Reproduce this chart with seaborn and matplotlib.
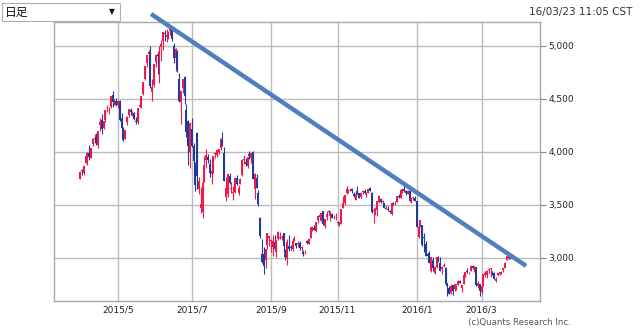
import numpy as np
import pandas as pd
import matplotlib
matplotlib.use("Agg")
import matplotlib.pyplot as plt
from matplotlib.patches import Rectangle
import seaborn as sns

# Shanghai market trading days, 2015-04-01 .. 2016-03-23
holidays = ["2015-04-06", "2015-05-01", "2015-06-22", "2015-09-03", "2015-09-04",
            "2015-10-01", "2015-10-02", "2015-10-05", "2015-10-06", "2015-10-07",
            "2016-01-01", "2016-02-08", "2016-02-09", "2016-02-10", "2016-02-11",
            "2016-02-12"]
dates = pd.bdate_range("2015-04-01", "2016-03-23")
dates = dates[~dates.isin(pd.to_datetime(holidays))]

opens = [
    # 2015/4
    3748, 3829, 3803, 3899, 3960, 3993, 3941, 4072, 4125, 4141, 4061, 4254, 4303, 4224, 4305, 4412, 4394, 4425, 4536, 4458, 4483,
    # 2015/5
    4441, 4479, 4320, 4213, 4125, 4282, 4344, 4400, 4373, 4367, 4296, 4285, 4426, 4440, 4544, 4686, 4842, 4925, 4943, 4563,
    # 2015/6
    4633, 4844, 4924, 4912, 4986, 5044, 5114, 5080, 5102, 5143, 5174, 5004, 4890, 4943, 4689, 4471, 4604, 4711, 4399, 4289, 3997,
    # 2015/7
    4214, 4058, 3793, 4176, 3654, 3467, 3432, 3719, 3927, 3950, 3882, 3790, 3833, 3980, 3973, 4003, 4037, 4110, 3986, 3573, 3606, 3776, 3650,
    # 2015/8
    3614, 3621, 3756, 3609, 3695, 3786, 3928, 3902, 3869, 3977, 3947, 3999, 3646, 3754, 3609, 3373, 3042, 3037, 2978, 3125, 3186,
    # 2015/9
    3157, 3101, 3149, 3054, 3183, 3190, 3189, 3237, 3041, 2998, 3115, 3108, 3082, 3163, 3137, 3131, 3140, 3098, 3053, 3053,
    # 2015/10
    3156, 3134, 3193, 3262, 3284, 3254, 3362, 3404, 3368, 3441, 3297, 3389, 3442, 3399, 3411, 3384, 3383,
    # 2015/11
    3337, 3316, 3325, 3470, 3514, 3611, 3624, 3646, 3654, 3605, 3550, 3630, 3611, 3575, 3619, 3630, 3600, 3614, 3659, 3616, 3443,
    # 2015/12
    3442, 3450, 3525, 3558, 3529, 3518, 3462, 3459, 3441, 3412, 3511, 3514, 3527, 3580, 3570, 3645, 3655, 3631, 3608, 3636, 3528, 3566, 3570,
    # 2016/1
    3536, 3196, 3292, 3309, 3194, 3131, 3036, 3051, 2873, 2985, 2854, 2911, 2992, 2952, 2897, 2923, 2904, 2765, 2712, 2669,
    # 2016/2
    2741, 2703, 2711, 2743, 2780, 2713, 2756, 2831, 2873, 2856, 2878, 2924, 2894, 2917, 2737, 2751,
    # 2016/3
    2682, 2732, 2841, 2836, 2885, 2894, 2867, 2857, 2786, 2835, 2848, 2860, 2884, 2905, 2981, 3005, 3004,
]
highs = [
    3817, 3835, 3866, 3961, 4000, 4069, 4034, 4128, 4168, 4175, 4194, 4317, 4356, 4293, 4398, 4444, 4424, 4529, 4572, 4499, 4507,
    4489, 4488, 4368, 4238, 4207, 4342, 4402, 4413, 4384, 4376, 4328, 4417, 4512, 4530, 4658, 4814, 4911, 4958, 5001, 4689,
    4829, 4911, 4951, 4997, 5052, 5131, 5147, 5164, 5137, 5178, 5176, 5029, 4985, 4966, 4744, 4577, 4691, 4720, 4456, 4297, 4287,
    4318, 4080, 3908, 4184, 3762, 3674, 3748, 3959, 4030, 3977, 3938, 3868, 3963, 4000, 4019, 4031, 4133, 4185, 4051, 3765, 3793, 3803, 3712,
    3675, 3757, 3782, 3686, 3751, 3934, 3970, 3944, 3955, 4006, 3994, 4006, 3797, 3788, 3640, 3388, 3175, 3100, 3084, 3233, 3211,
    3180, 3213, 3218, 3174, 3256, 3243, 3214, 3239, 3085, 3182, 3213, 3121, 3160, 3208, 3145, 3161, 3157, 3112, 3074, 3073,
    3172, 3185, 3293, 3298, 3308, 3338, 3394, 3422, 3426, 3447, 3369, 3441, 3457, 3440, 3420, 3405, 3420,
    3348, 3336, 3460, 3585, 3596, 3678, 3648, 3659, 3664, 3623, 3609, 3679, 3616, 3619, 3640, 3654, 3619, 3648, 3669, 3621, 3470,
    3483, 3538, 3591, 3568, 3547, 3518, 3497, 3493, 3451, 3521, 3529, 3534, 3588, 3600, 3645, 3652, 3684, 3640, 3641, 3637, 3564, 3573, 3580,
    3538, 3328, 3362, 3309, 3236, 3163, 3043, 3067, 3011, 3006, 2925, 3012, 3016, 3010, 2923, 2951, 2917, 2768, 2734, 2750,
    2741, 2750, 2757, 2788, 2794, 2749, 2839, 2868, 2901, 2870, 2933, 2929, 2928, 2917, 2780, 2757,
    2735, 2849, 2874, 2886, 2906, 2901, 2874, 2865, 2818, 2860, 2867, 2880, 2909, 2961, 3026, 3018, 3012,
]
lows = [
    3742, 3783, 3787, 3899, 3874, 3922, 3940, 4054, 4084, 4069, 4041, 4196, 4174, 4214, 4284, 4373, 4354, 4417, 4425, 4439, 4433,
    4412, 4288, 4195, 4099, 4120, 4252, 4329, 4349, 4335, 4306, 4260, 4268, 4426, 4416, 4536, 4680, 4806, 4863, 4606, 4480,
    4616, 4797, 4738, 4647, 4856, 4965, 5049, 5042, 5064, 5099, 5048, 4841, 4767, 4757, 4476, 4264, 4552, 4456, 4140, 3875, 3848,
    4043, 3795, 3629, 3653, 3601, 3421, 3373, 3719, 3844, 3894, 3762, 3694, 3805, 3943, 3954, 3985, 4017, 4052, 3724, 3537, 3573, 3696, 3614,
    3549, 3612, 3687, 3596, 3695, 3774, 3891, 3868, 3849, 3929, 3894, 3743, 3558, 3663, 3491, 3191, 2953, 2850, 2906, 3085, 3109,
    3053, 3019, 3066, 3011, 3169, 3178, 3168, 3049, 2983, 2938, 3061, 3073, 3067, 3163, 3093, 3108, 3073, 3069, 3022, 3039,
    3133, 3131, 3188, 3255, 3260, 3248, 3326, 3356, 3353, 3310, 3285, 3362, 3406, 3347, 3373, 3363, 3354,
    3308, 3301, 3325, 3470, 3502, 3606, 3615, 3627, 3616, 3573, 3543, 3603, 3566, 3570, 3603, 3599, 3576, 3612, 3629, 3423, 3327,
    3410, 3392, 3518, 3520, 3511, 3467, 3459, 3447, 3425, 3407, 3498, 3501, 3527, 3561, 3568, 3614, 3625, 3597, 3601, 3532, 3520, 3543, 3538,
    3295, 3189, 3288, 3115, 3059, 3016, 2975, 2949, 2867, 2878, 2844, 2907, 2961, 2880, 2851, 2911, 2749, 2639, 2656, 2659,
    2654, 2691, 2698, 2741, 2760, 2683, 2756, 2817, 2857, 2845, 2874, 2892, 2868, 2740, 2712, 2638,
    2658, 2732, 2817, 2813, 2860, 2825, 2843, 2805, 2773, 2832, 2837, 2849, 2868, 2901, 2980, 2991, 2987,
]
closes = [
    3810, 3825, 3863, 3961, 3994, 3957, 4034, 4121, 4135, 4084, 4194, 4287, 4217, 4293, 4398, 4414, 4394, 4527, 4476, 4476, 4442,
    4480, 4298, 4229, 4112, 4205, 4333, 4401, 4375, 4378, 4308, 4283, 4417, 4446, 4529, 4657, 4813, 4910, 4941, 4620, 4611,
    4828, 4910, 4909, 4947, 5023, 5131, 5113, 5106, 5121, 5166, 5062, 4887, 4967, 4786, 4478, 4576, 4690, 4527, 4192, 4053, 4277,
    4053, 3912, 3687, 3776, 3727, 3507, 3710, 3877, 3970, 3924, 3805, 3823, 3958, 3992, 4017, 4026, 4124, 4070, 3725, 3663, 3789, 3705, 3664,
    3623, 3757, 3695, 3661, 3744, 3928, 3928, 3887, 3955, 3965, 3993, 3748, 3794, 3664, 3507, 3210, 2965, 2927, 3084, 3232, 3206,
    3166, 3160, 3080, 3170, 3243, 3197, 3200, 3114, 3005, 3152, 3086, 3097, 3157, 3186, 3116, 3143, 3093, 3101, 3039, 3053,
    3144, 3183, 3288, 3294, 3263, 3338, 3392, 3386, 3426, 3320, 3369, 3413, 3430, 3434, 3375, 3388, 3383,
    3326, 3316, 3460, 3523, 3590, 3647, 3641, 3650, 3632, 3580, 3606, 3605, 3568, 3617, 3630, 3610, 3616, 3647, 3635, 3436, 3445,
    3456, 3536, 3584, 3525, 3536, 3470, 3472, 3455, 3435, 3520, 3510, 3516, 3580, 3578, 3643, 3651, 3636, 3612, 3627, 3534, 3563, 3572, 3539,
    3296, 3288, 3361, 3125, 3186, 3016, 3022, 2949, 3007, 2901, 2913, 3008, 2976, 2880, 2916, 2938, 2750, 2735, 2656, 2738,
    2689, 2750, 2739, 2782, 2763, 2746, 2837, 2867, 2863, 2860, 2927, 2903, 2928, 2741, 2767, 2688,
    2733, 2849, 2859, 2874, 2897, 2901, 2863, 2805, 2804, 2859, 2864, 2870, 2904, 2955, 3018, 2999, 3010,
]

# resistance line drawn across the chart (trading-day index, price)
trend_x = [39.4, 247.8]
trend_y = [5302, 2925]

tick_months = ["2015-05", "2015-07", "2015-09", "2015-11", "2016-01", "2016-03"]
tick_labels = ["2015/5", "2015/7", "2015/9", "2015/11", "2016/1", "2016/3"]
y_ticks = [3000, 3500, 4000, 4500, 5000]

df = pd.DataFrame({"date": dates, "open": opens, "high": highs, "low": lows, "close": closes})
df["i"] = np.arange(len(df))
df["up"] = df["close"] >= df["open"]

sns.set_style("white")
plt.rcParams["font.family"] = ["DejaVu Sans"]

fig = plt.figure(figsize=(6.4, 3.32), dpi=100)
ax = fig.add_axes([54 / 640, 1 - 301 / 332, 486 / 640, 279 / 332])

RED = "#f2184c"
BLUE = "#1f3b9e"
colors = np.where(df["up"], RED, BLUE)

# wicks
ax.vlines(df["i"], df["low"], df["high"], colors=colors, linewidth=0.8, zorder=3)
# bodies
body_lo = np.minimum(df["open"], df["close"])
body_hi = np.maximum(df["open"], df["close"])
body_hi = np.where(body_hi - body_lo < 5, body_lo + 5, body_hi)
ax.vlines(df["i"], body_lo, body_hi, colors=colors, linewidth=1.45, zorder=3)

# resistance line
trend = pd.DataFrame({"x": trend_x, "y": trend_y})
sns.lineplot(data=trend, x="x", y="y", ax=ax, color="#4f7fbf", linewidth=3.2,
             zorder=5, clip_on=False, solid_capstyle="butt")

ax.set_xlim(-14.5, 255.5)
ax.set_ylim(2594, 5226)

first_idx = [int(np.argmax(df["date"].dt.strftime("%Y-%m") == m)) for m in tick_months]
ax.set_xticks(first_idx)
ax.set_xticklabels(tick_labels, fontsize=6.5, color="#222222")
ax.set_yticks(y_ticks)
ax.set_yticklabels([f"{v:,}" for v in y_ticks], fontsize=6.5, color="#222222")
ax.yaxis.tick_right()
ax.tick_params(axis="y", length=4, width=0.8, color="#888888", pad=2)
ax.tick_params(axis="x", length=0, pad=3)
ax.grid(True, color="#bcbcbc", linewidth=1.0)
ax.set_axisbelow(True)
for s in ax.spines.values():
    s.set_color("#a8a8a8")
    s.set_linewidth(1.0)
ax.set_xlabel("")
ax.set_ylabel("")

# period selector box
fig.patches.append(Rectangle((2 / 640, 1 - 21 / 332), 118 / 640, 18 / 332,
                             transform=fig.transFigure, facecolor="white",
                             edgecolor="#b0b0b0", linewidth=0.8))
fig.text(5 / 640, 1 - 12 / 332, "日足", fontsize=8.5, va="center", ha="left",
         family=["Noto Sans CJK JP", "DejaVu Sans"], color="#111111")
fig.text(112 / 640, 1 - 12 / 332, "▼", fontsize=5.5, va="center", ha="center",
         family=["DejaVu Sans"], color="#111111")

fig.text(632 / 640, 1 - 12 / 332, "16/03/23 11:05 CST", fontsize=7.5,
         ha="right", va="center", color="#333333")
fig.text(571 / 640, 1 - 322 / 332, "(c)Quants Research Inc.", fontsize=6.2,
         ha="right", va="center", color="#555555")

fig.savefig("out.png", dpi=100)
